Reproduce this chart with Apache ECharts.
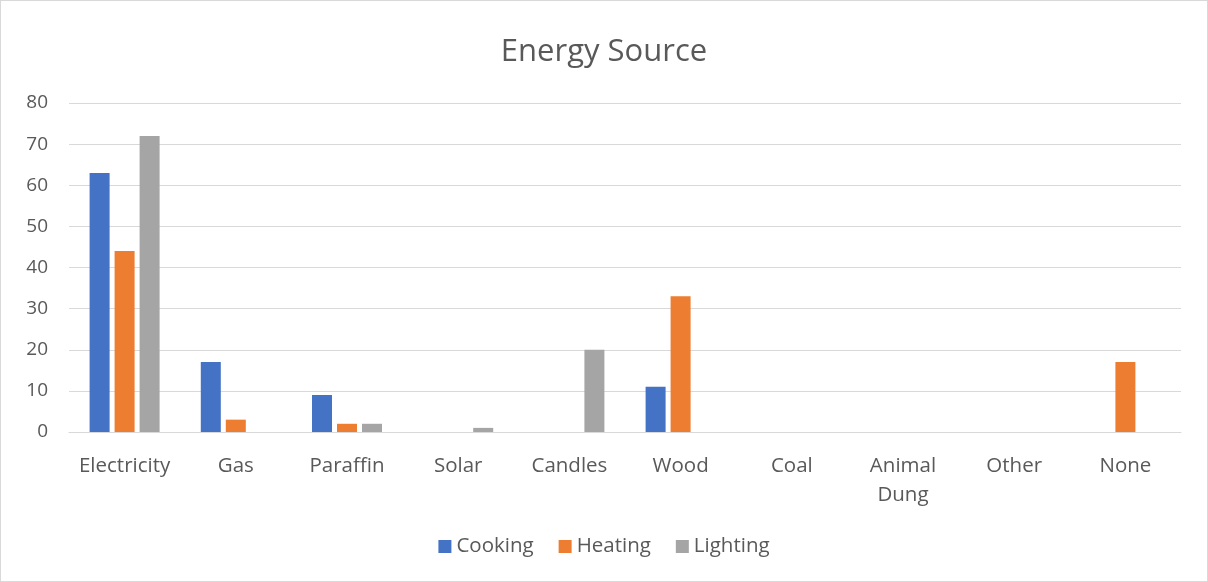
<!DOCTYPE html>
<html>
<head>
<meta charset="utf-8">
<script src="https://cdn.jsdelivr.net/npm/echarts@6/dist/echarts.min.js"></script>
<style>
  html, body { margin: 0; padding: 0; background: #fff; }
  #chart { width: 1206px; height: 580px; border: 1px solid #d9d9d9; }
</style>
</head>
<body>
<div id="chart"></div>
<script>
  // data
  const categories = ['Electricity', 'Gas', 'Paraffin', 'Solar', 'Candles', 'Wood', 'Coal', 'Animal\nDung', 'Other', 'None'];
  const cooking = [63, 17, 9, 0, 0, 11, 0, 0, 0, 0];
  const heating = [44, 3, 2, 0, 0, 33, 0, 0, 0, 17];
  const lighting = [72, 0, 2, 1, 20, 0, 0, 0, 0, 0];
  const yTicks = { min: 0, max: 80, interval: 10 };

  const font = '"Open Sans", "Noto Sans", sans-serif';
  const textColor = '#595959';

  const chart = echarts.init(document.getElementById('chart'));
  chart.setOption({
    animation: false,
    textStyle: { fontFamily: font },
    title: {
      text: 'Energy Source',
      left: 'center',
      top: 31,
      textStyle: { fontFamily: font, fontSize: 31, fontWeight: 'normal', color: textColor }
    },
    legend: {
      bottom: 19,
      left: 'center',
      itemWidth: 13,
      itemHeight: 13,
      itemGap: 25,
      icon: 'rect',
      textStyle: { fontFamily: font, fontSize: 20.5, color: textColor }
    },
    grid: { left: 68, right: 26, top: 102, bottom: 149 },
    xAxis: {
      type: 'category',
      data: categories,
      axisTick: { show: false },
      axisLine: { lineStyle: { color: '#d9d9d9', width: 1 } },
      axisLabel: { interval: 0, fontFamily: font, fontSize: 20.5, color: textColor, margin: 20, lineHeight: 29 }
    },
    yAxis: {
      type: 'value',
      min: yTicks.min,
      max: yTicks.max,
      interval: yTicks.interval,
      axisLine: { show: false },
      axisTick: { show: false },
      splitLine: { lineStyle: { color: '#d9d9d9', width: 1 } },
      axisLabel: { fontFamily: font, fontSize: 19, color: textColor, margin: 21 }
    },
    series: [
      { name: 'Cooking', type: 'bar', data: cooking, barWidth: 20, barGap: '25%', itemStyle: { color: '#4472c4' } },
      { name: 'Heating', type: 'bar', data: heating, barWidth: 20, barGap: '25%', itemStyle: { color: '#ed7d31' } },
      { name: 'Lighting', type: 'bar', data: lighting, barWidth: 20, barGap: '25%', itemStyle: { color: '#a5a5a5' } }
    ]
  });
</script>
</body>
</html>
